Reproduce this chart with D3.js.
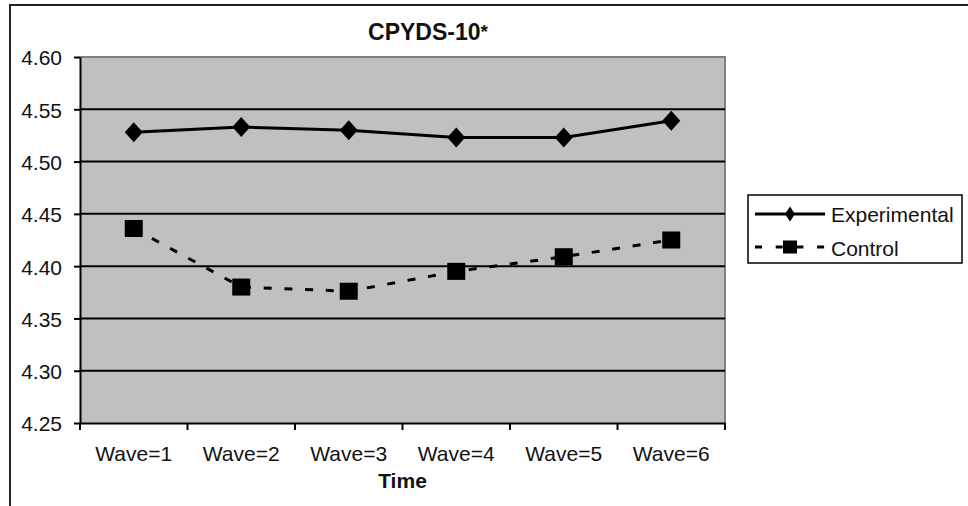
<!DOCTYPE html>
<html>
<head>
<meta charset="utf-8">
<script src="https://cdn.jsdelivr.net/npm/d3@7"></script>
<style>
  html, body { margin: 0; padding: 0; background: #fff; }
  svg { display: block; }
  text { font-family: Arial, "Liberation Sans", sans-serif; fill: #111; }
</style>
</head>
<body>
<svg id="chart" width="968" height="506"></svg>
<script>
// Wave labels along the time axis
const waves = ["Wave=1", "Wave=2", "Wave=3", "Wave=4", "Wave=5", "Wave=6"];
// Mean CPYDS-10 score per wave
const experimental = [4.528, 4.533, 4.530, 4.523, 4.523, 4.539];
const control = [4.436, 4.380, 4.376, 4.395, 4.409, 4.425];
// Value axis ticks
const yTicks = [4.25, 4.30, 4.35, 4.40, 4.45, 4.50, 4.55, 4.60];

const svg = d3.select("#chart");
const plot = { left: 80, right: 725, top: 57, bottom: 423 };

const x = d3.scaleBand().domain(waves).range([plot.left, plot.right]).padding(0);
const y = d3.scaleLinear().domain([4.25, 4.60]).range([plot.bottom, plot.top]);
const cx = d => x(d) + x.bandwidth() / 2;

// outer chart frame (top and left edges)
svg.append("path")
  .attr("d", `M10,506 V5 H968`)
  .attr("fill", "none").attr("stroke", "#222").attr("stroke-width", 2);

// plot background
svg.append("rect")
  .attr("x", plot.left).attr("y", plot.top)
  .attr("width", plot.right - plot.left).attr("height", plot.bottom - plot.top)
  .attr("fill", "#c0c0c0");

// plot border top/right (grey)
svg.append("path")
  .attr("d", `M${plot.left},${plot.top} H${plot.right} V${plot.bottom}`)
  .attr("fill", "none").attr("stroke", "#808080").attr("stroke-width", 2);

// horizontal gridlines
svg.append("g").selectAll("line")
  .data(yTicks.filter(v => v > 4.25 && v < 4.60))
  .join("line")
  .attr("x1", plot.left).attr("x2", plot.right)
  .attr("y1", d => y(d)).attr("y2", d => y(d))
  .attr("stroke", "#000").attr("stroke-width", 2);

// y axis
const yAxis = svg.append("g")
  .attr("transform", `translate(${plot.left},0)`)
  .call(d3.axisLeft(y).tickValues(yTicks).tickFormat(d3.format(".2f"))
    .tickSize(6).tickSizeOuter(0).tickPadding(12));
yAxis.select(".domain").attr("stroke", "#000").attr("stroke-width", 2);
yAxis.selectAll(".tick line").attr("stroke", "#000").attr("stroke-width", 2);
yAxis.selectAll(".tick text")
  .attr("font-size", 21).attr("dy", "0.38em")
  .attr("font-family", "Arial, 'Liberation Sans', sans-serif").attr("fill", "#1a1a1a");

// x axis with category labels
const xAxis = svg.append("g")
  .attr("transform", `translate(0,${plot.bottom})`)
  .call(d3.axisBottom(x).tickSize(0).tickSizeOuter(0));
xAxis.select(".domain").attr("stroke", "#000").attr("stroke-width", 2);
xAxis.selectAll(".tick text")
  .attr("font-size", 21).attr("y", 38).attr("dy", 0)
  .attr("font-family", "Arial, 'Liberation Sans', sans-serif").attr("fill", "#1a1a1a");

// tick marks on category boundaries
const bounds = waves.map(d => x(d)).concat([x.range()[1]]);
svg.append("g").selectAll("line")
  .data(bounds).join("line")
  .attr("x1", d => d).attr("x2", d => d)
  .attr("y1", plot.bottom).attr("y2", plot.bottom + 7)
  .attr("stroke", "#000").attr("stroke-width", 2);

// title (with a small raised asterisk) and axis title
const title = svg.append("text")
  .attr("x", 428).attr("y", 40)
  .attr("text-anchor", "middle")
  .attr("font-size", 23).attr("font-weight", "bold");
title.append("tspan").text("CPYDS-10");
title.append("tspan").attr("font-size", 19).attr("dy", -2).text("*");

svg.append("text")
  .attr("x", (plot.left + plot.right) / 2).attr("y", 488)
  .attr("text-anchor", "middle")
  .attr("font-size", 21).attr("font-weight", "bold")
  .text("Time");

const line = d3.line().x((d, i) => cx(waves[i])).y(d => y(d));

// Control series (dashed, squares)
svg.append("path")
  .datum(control)
  .attr("d", line)
  .attr("fill", "none").attr("stroke", "#000").attr("stroke-width", 3)
  .attr("stroke-dasharray", "8,12.7");
svg.append("g").selectAll("rect")
  .data(control).join("rect")
  .attr("x", (d, i) => cx(waves[i]) - 9).attr("y", d => y(d) - 8.5)
  .attr("width", 18).attr("height", 17)
  .attr("fill", "#000");

// Experimental series (solid, diamonds)
svg.append("path")
  .datum(experimental)
  .attr("d", line)
  .attr("fill", "none").attr("stroke", "#000").attr("stroke-width", 3);
const diamond = (px, py, w, h) => `M${px},${py - h} L${px + w},${py} L${px},${py + h} L${px - w},${py} Z`;
svg.append("g").selectAll("path")
  .data(experimental).join("path")
  .attr("d", (d, i) => diamond(cx(waves[i]), y(d), 9, 10))
  .attr("fill", "#000");

// legend
const lg = svg.append("g");
lg.append("rect")
  .attr("x", 748).attr("y", 195).attr("width", 214).attr("height", 68)
  .attr("fill", "#fff").attr("stroke", "#000").attr("stroke-width", 1.5);

lg.append("line")
  .attr("x1", 755).attr("x2", 825).attr("y1", 214).attr("y2", 214)
  .attr("stroke", "#000").attr("stroke-width", 3);
lg.append("path").attr("d", diamond(790, 214, 5, 7.5)).attr("fill", "#000");
lg.append("text").attr("x", 831).attr("y", 221.5).attr("font-size", 21)
  .attr("fill", "#1a1a1a").text("Experimental");

lg.append("line")
  .attr("x1", 755).attr("x2", 825).attr("y1", 247).attr("y2", 247)
  .attr("stroke", "#000").attr("stroke-width", 3)
  .attr("stroke-dasharray", "7,13.7");
lg.append("rect").attr("x", 783).attr("y", 240.5).attr("width", 14).attr("height", 13).attr("fill", "#000");
lg.append("text").attr("x", 831).attr("y", 255.5).attr("font-size", 21)
  .attr("fill", "#1a1a1a").text("Control");
</script>
</body>
</html>
